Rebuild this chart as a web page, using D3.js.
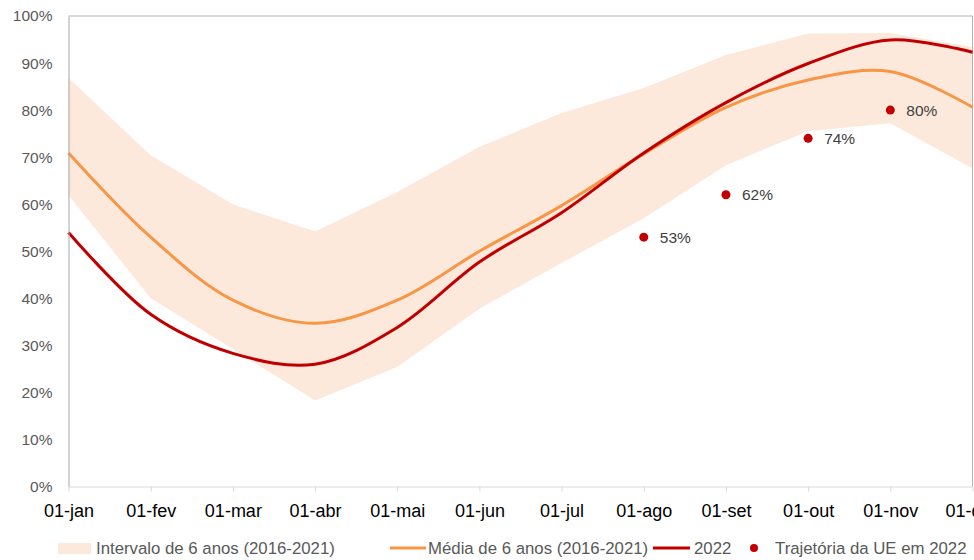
<!DOCTYPE html>
<html><head><meta charset="utf-8">
<script src="https://cdn.jsdelivr.net/npm/d3@7"></script>
<style>
html,body{margin:0;padding:0;background:#fff;}
svg{display:block;font-family:"Liberation Sans",Arial,sans-serif;}
</style></head>
<body>
<svg id="chart" width="974" height="560"></svg>
<script>
const months = ["01-jan","01-fev","01-mar","01-abr","01-mai","01-jun","01-jul","01-ago","01-set","01-out","01-nov","01-dez"];
const bandLow  = [61.9, 40.0, 29.2, 18.3, 25.4, 37.8, 47.5, 57.0, 68.3, 75.5, 77.2, 67.6];
const bandHigh = [86.8, 70.4, 60.0, 54.2, 62.6, 72.2, 79.4, 84.7, 91.7, 96.3, 96.4, 93.4];
const media    = [70.9, 53.0, 39.6, 34.7, 39.6, 50.0, 59.7, 70.7, 80.6, 86.4, 88.2, 80.6];
const y2022    = [54.0, 36.6, 28.3, 26.0, 33.8, 47.7, 58.2, 70.9, 81.6, 89.9, 94.9, 92.3];
const ueMonths = ["01-ago","01-set","01-out","01-nov"];
const ueValues = [53, 62, 74, 80];
const yTicks   = [0,10,20,30,40,50,60,70,80,90,100];

const svg = d3.select("#chart");
const L = 68.5, R = 972.5, T = 16, B = 486.5;
const x = d3.scalePoint().domain(months).range([L, R]);
const y = d3.scaleLinear().domain([0, 100]).range([B, T]);

const bandData = months.map((m,i)=>({m, lo:bandLow[i], hi:bandHigh[i]}));
svg.append("path").datum(bandData)
  .attr("fill","#fde9db")
  .attr("d", d3.area().x(d=>x(d.m)).y0(d=>y(d.lo)).y1(d=>y(d.hi)).curve(d3.curveLinear));

// frame
svg.append("line").attr("x1",L).attr("x2",R).attr("y1",T).attr("y2",T).attr("stroke","#b3b3b3").attr("stroke-width",1);
svg.append("line").attr("x1",R).attr("x2",R).attr("y1",T).attr("y2",B).attr("stroke","#b3b3b3").attr("stroke-width",1);

const line = d3.line().x((d,i)=>x(months[i])).y(d=>y(d)).curve(d3.curveCatmullRom.alpha(0.5));
svg.append("path").datum(media).attr("fill","none").attr("stroke","#f79646").attr("stroke-width",3).attr("d",line);
svg.append("path").datum(y2022).attr("fill","none").attr("stroke","#c00000").attr("stroke-width",3).attr("d",line);

// UE points
const ue = ueMonths.map((m,i)=>({m, v:ueValues[i]}));
svg.selectAll("circle.ue").data(ue).join("circle").attr("class","ue")
  .attr("cx",d=>x(d.m)).attr("cy",d=>y(d.v)).attr("r",4.5).attr("fill","#c00000");
svg.selectAll("text.ue").data(ue).join("text").attr("class","ue")
  .attr("x",d=>x(d.m)+16).attr("y",d=>y(d.v)).attr("dy","0.36em")
  .attr("font-size",15.5).attr("fill","#404040").text(d=>d.v+"%");

// y axis
const yAxis = svg.append("g").attr("transform",`translate(${L},0)`)
  .call(d3.axisLeft(y).tickValues(yTicks).tickFormat(d=>d+"%").tickSize(0).tickPadding(16));
yAxis.select(".domain").attr("stroke","#a6a6a6");
yAxis.selectAll("text").attr("font-size",15.5).attr("fill","#595959").attr("font-family","Liberation Sans, Arial, sans-serif");

// x axis
const xAxis = svg.append("g").attr("transform",`translate(0,${B})`)
  .call(d3.axisBottom(x).tickSize(5).tickSizeOuter(0).tickPadding(13));
xAxis.select(".domain").attr("stroke","#d9d9d9");
xAxis.selectAll(".tick line").attr("stroke","#d9d9d9");
xAxis.selectAll("text").attr("font-size",18).attr("fill","#000").attr("font-family","Liberation Sans, Arial, sans-serif");

// legend
const lg = svg.append("g").attr("font-size",16.8).attr("fill","#595959");
const ly = 548;
lg.append("rect").attr("x",58).attr("y",ly-5).attr("width",33).attr("height",11).attr("fill","#fde9db");
lg.append("text").attr("x",96).attr("y",ly).attr("dy","0.36em").text("Intervalo de 6 anos (2016-2021)");
lg.append("line").attr("x1",390).attr("x2",426).attr("y1",ly).attr("y2",ly).attr("stroke","#f79646").attr("stroke-width",3);
lg.append("text").attr("x",428).attr("y",ly).attr("dy","0.36em").text("Média de 6 anos (2016-2021)");
lg.append("line").attr("x1",653).attr("x2",690).attr("y1",ly).attr("y2",ly).attr("stroke","#c00000").attr("stroke-width",3);
lg.append("text").attr("x",694).attr("y",ly).attr("dy","0.36em").text("2022");
lg.append("circle").attr("cx",754).attr("cy",ly).attr("r",4).attr("fill","#c00000");
lg.append("text").attr("x",775).attr("y",ly).attr("dy","0.36em").text("Trajetória da UE em 2022");
</script>
</body></html>
